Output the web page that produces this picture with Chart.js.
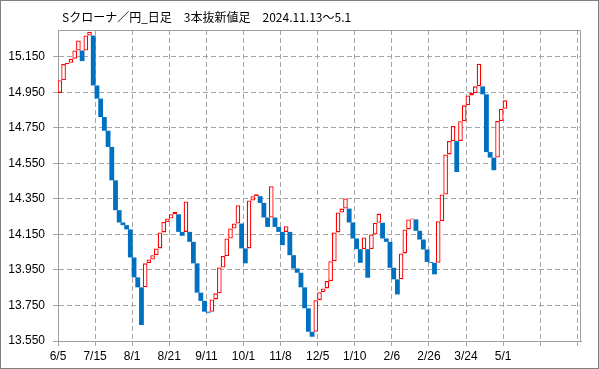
<!DOCTYPE html>
<html><head><meta charset="utf-8">
<script src="https://cdn.jsdelivr.net/npm/chart.js@4/dist/chart.umd.min.js"></script>
<style>html,body{margin:0;padding:0;background:#fff;}#wrap{width:599px;height:369px;position:relative}</style>
</head><body><div id="wrap"><canvas id="c" width="599" height="369"></canvas></div>
<script>
const titleText = 'Sクローナ／円_日足　3本抜新値足　2024.11.13～5.1';
const xTickLabels = ['6/5','7/15','8/1','8/21','9/11','10/1','11/8','12/5','1/10','2/6','2/26','3/24','5/1','',''];
const yTickValues = [13.55,13.75,13.95,14.15,14.35,14.55,14.75,14.95,15.15];
const slotCount = 141;
const yMin = 13.55, yMax = 15.30;
const firstOpen = 14.946;
const closes = [
 15.017,15.108,15.116,15.138,15.185,15.241,15.125,15.269,15.290,14.988,
 14.914,14.810,14.733,14.642,14.454,14.286,14.217,14.202,14.178,14.020,
 13.908,13.852,13.640,13.987,14.009,14.033,14.071,14.161,14.220,14.239,
 14.263,14.276,14.164,14.142,14.335,14.108,13.987,13.822,13.776,13.715,
 13.709,13.784,13.818,13.964,14.028,14.127,14.183,14.211,14.314,14.071,
 13.987,14.341,14.365,14.376,14.327,14.245,14.192,14.421,14.192,14.164,
 14.089,14.196,14.033,13.958,13.934,13.852,13.734,13.602,13.574,13.780,
 13.824,13.846,13.887,13.999,14.161,14.273,14.295,14.352,14.217,14.127,
 14.067,13.990,14.133,13.906,14.149,14.215,14.267,14.127,14.108,13.962,
 13.897,13.812,14.043,14.178,14.234,14.239,14.170,14.121,14.065,13.995,
 13.990,13.925,14.224,14.374,14.600,14.675,14.760,14.501,14.787,14.876,
 14.932,14.945,14.983,15.110,14.938,14.613,14.582,14.511,14.788,14.857,
 14.904
];

// build line-break bars: up bar opens at previous high, down bar at previous low
const upBars = [], downBars = [];
let pOpen = null, pClose = null;
closes.forEach((c, i) => {
  let o, up;
  if (i === 0) { o = firstOpen; up = c > o; }
  else {
    const hi = Math.max(pOpen, pClose), lo = Math.min(pOpen, pClose);
    if (c > hi) { o = hi; up = true; } else { o = lo; up = false; }
  }
  (up ? upBars : downBars).push({x: i + 0.5, y: [o, c]});
  pOpen = o; pClose = c;
});

const frame = {
  id: 'frame',
  beforeDraw(chart) {
    const ctx = chart.ctx;
    ctx.save();
    ctx.fillStyle = '#fff';
    ctx.fillRect(0, 0, chart.width, chart.height);
    ctx.strokeStyle = '#808080';
    ctx.lineWidth = 1;
    ctx.strokeRect(0.5, 0.5, chart.width - 1, chart.height - 1);
    ctx.restore();
  },
  afterDraw(chart) {
    const ctx = chart.ctx, a = chart.chartArea;
    ctx.save();
    ctx.strokeStyle = '#A0A0A0';
    ctx.lineWidth = 1;
    ctx.beginPath();
    ctx.moveTo(Math.round(a.left) + 0.5, Math.round(a.top) + 0.5);
    ctx.lineTo(Math.round(a.right) - 0.5, Math.round(a.top) + 0.5);
    ctx.lineTo(Math.round(a.right) - 0.5, Math.round(a.bottom) + 0.5);
    ctx.stroke();
    ctx.fillStyle = '#000';
    ctx.font = '12px "Noto Sans CJK JP"';
    ctx.textBaseline = 'middle';
    ctx.textAlign = 'left';
    ctx.fillText(titleText, 62, 17.5);
    ctx.restore();
  }
};

new Chart(document.getElementById('c'), {
  type: 'bar',
  data: {
    datasets: [
      {data: upBars, backgroundColor: '#ffffff', borderColor: '#ff0000', borderWidth: 1.3, borderSkipped: false,
       grouped: false, categoryPercentage: 1, barPercentage: 1.25},
      {data: downBars, backgroundColor: '#0070C0', borderColor: '#0070C0', borderWidth: 0,
       grouped: false, categoryPercentage: 1, barPercentage: 1.3}
    ]
  },
  options: {
    responsive: false,
    animation: false,
    devicePixelRatio: 1,
    layout: {padding: {top: 30, right: 18, left: 0, bottom: 0}},
    plugins: {legend: {display: false}, tooltip: {enabled: false}, title: {display: false}},
    scales: {
      x: {
        type: 'linear', min: 0, max: slotCount, offset: false,
        afterBuildTicks: s => { s.ticks = xTickLabels.map((_, k) => ({value: k * 10})); },
        afterFit: s => { s.height = 28; },
        ticks: {autoSkip: false, maxRotation: 0, minRotation: 0, padding: 3,
                font: {family: 'Liberation Sans', size: 12}, color: '#000',
                callback: (v, idx) => xTickLabels[idx]},
        grid: {offset: false, color: '#A6A6A6', lineWidth: 1, tickLength: 5, tickColor: '#A6A6A6', tickBorderDash: []},
        border: {display: true, color: '#A0A0A0', width: 1, dash: [5, 3]}
      },
      y: {
        type: 'linear', min: yMin, max: yMax,
        afterBuildTicks: s => { s.ticks = yTickValues.map(v => ({value: v})); },
        afterFit: s => { s.width = 58; },
        ticks: {padding: 8, font: {family: 'Liberation Sans', size: 12}, color: '#000',
                callback: v => Number(v).toFixed(3)},
        grid: {color: '#A6A6A6', lineWidth: 1, tickLength: 5, tickColor: '#A6A6A6', tickBorderDash: []},
        border: {display: true, color: '#A0A0A0', width: 1, dash: [5, 3]}
      }
    }
  },
  plugins: [frame]
});
</script></body></html>
